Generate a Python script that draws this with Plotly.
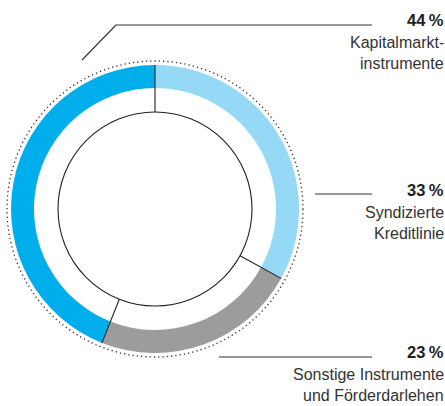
import math
import plotly.graph_objects as go

# Data
categories = ["Syndizierte Kreditlinie", "Sonstige Instrumente und Förderdarlehen", "Kapitalmarktinstrumente"]
values = [33, 23, 44]
label_lines = [["Syndizierte", "Kreditlinie"], ["Sonstige Instrumente", "und Förderdarlehen"], ["Kapitalmarkt-", "instrumente"]]
colors = ["#96D9F6", "#9C9C9D", "#00AEEB"]

W, H = 445, 406
CX, CY = 155, 209
R_OUT = 144
R_IN = 121
R_CORE = 97
R_DOT = 148

fig = go.Figure()
fig.add_trace(go.Pie(
    labels=categories, values=values, sort=False, direction="clockwise", rotation=0,
    hole=R_IN / R_OUT, marker=dict(colors=colors, line=dict(width=0)),
    textinfo="none", hoverinfo="label+percent", showlegend=False,
    domain=dict(x=[(CX - R_OUT) / W, (CX + R_OUT) / W],
                y=[(H - CY - R_OUT) / H, (H - CY + R_OUT) / H]),
))

shapes = []
# inner circle
shapes.append(dict(type="circle", xref="x", yref="y", x0=CX - R_CORE, x1=CX + R_CORE,
                   y0=CY - R_CORE, y1=CY + R_CORE, line=dict(color="#222222", width=1.1),
                   fillcolor="white", layer="above"))
# dotted outer circle
shapes.append(dict(type="circle", xref="x", yref="y", x0=CX - R_DOT, x1=CX + R_DOT,
                   y0=CY - R_DOT, y1=CY + R_DOT, line=dict(color="#333333", width=1.3, dash="1.3px,3px"),
                   layer="above"))
# boundary lines between slices
total = sum(values)
cum = 0
for v in values:
    ang = cum / total * 2 * math.pi
    sx, sy = math.sin(ang), -math.cos(ang)
    shapes.append(dict(type="line", xref="x", yref="y",
                       x0=CX + R_CORE * sx, y0=CY + R_CORE * sy,
                       x1=CX + R_OUT * sx, y1=CY + R_OUT * sy,
                       line=dict(color="#222222", width=1.1), layer="above"))
    cum += v

# leader lines
lead_col = "#333333"
shapes.append(dict(type="line", xref="x", yref="y", x0=82, y0=60, x1=116, y1=25, line=dict(color=lead_col, width=1.1)))
shapes.append(dict(type="line", xref="x", yref="y", x0=116, y0=25, x1=372, y1=25, line=dict(color=lead_col, width=1.1)))
shapes.append(dict(type="line", xref="x", yref="y", x0=315, y0=194, x1=372, y1=194, line=dict(color=lead_col, width=1.1)))
shapes.append(dict(type="line", xref="x", yref="y", x0=219, y0=357, x1=372, y1=357, line=dict(color=lead_col, width=1.1)))

# labels
FONT = "Liberation Sans Narrow, Arial Narrow, sans-serif"
label_y = {2: 20, 0: 190, 1: 352}
annotations = []
for i in [2, 0, 1]:
    y0 = label_y[i]
    annotations.append(dict(x=444, y=y0, xref="x", yref="y", xanchor="right", yanchor="middle",
                            xshift=2, text=f"<b>{values[i]}\u202f%</b>", showarrow=False,
                            font=dict(family=FONT, size=16.5, color="#1e1e1e")))
    for j, line in enumerate(label_lines[i]):
        annotations.append(dict(x=444, y=y0 + 22 + 21.5 * j, xref="x", yref="y", xanchor="right",
                                yanchor="middle", xshift=2, text=line, showarrow=False,
                                font=dict(family=FONT, size=16, color="#333333")))

fig.update_layout(
    width=W, height=H, margin=dict(l=0, r=0, t=0, b=0),
    paper_bgcolor="white", plot_bgcolor="rgba(0,0,0,0)",
    xaxis=dict(range=[0, W], visible=False, fixedrange=True),
    yaxis=dict(range=[H, 0], visible=False, fixedrange=True),
    shapes=shapes, annotations=annotations,
)
fig.write_html("out.html", config={"displayModeBar": False},
               post_script="document.body.style.margin='0';document.body.style.overflow='hidden';")
